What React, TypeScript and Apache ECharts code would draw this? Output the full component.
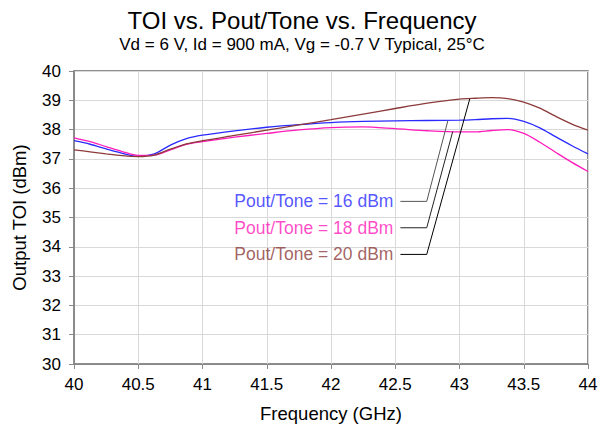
import React, { useEffect, useRef } from "react";
import * as echarts from "echarts";

const freqs = [40, 40.125, 40.25, 40.375, 40.5, 40.625, 40.75, 40.875, 41, 41.25, 41.5, 41.75, 42, 42.25, 42.5, 42.75, 43, 43.125, 43.25, 43.375, 43.5, 43.625, 43.75, 43.875, 44];
const toi16 = [37.62, 37.5, 37.34, 37.19, 37.09, 37.17, 37.47, 37.69, 37.81, 37.96, 38.08, 38.17, 38.24, 38.28, 38.3, 38.31, 38.32, 38.34, 38.37, 38.38, 38.28, 38.06, 37.75, 37.45, 37.17];
const toi18 = [37.72, 37.59, 37.42, 37.25, 37.12, 37.13, 37.31, 37.5, 37.59, 37.74, 37.87, 37.99, 38.07, 38.09, 38.03, 37.96, 37.92, 37.92, 37.97, 38.0, 37.87, 37.57, 37.22, 36.88, 36.57];
const toi20 = [37.31, 37.24, 37.17, 37.11, 37.08, 37.13, 37.33, 37.51, 37.62, 37.8, 37.98, 38.16, 38.34, 38.53, 38.72, 38.9, 39.04, 39.07, 39.09, 39.06, 38.94, 38.73, 38.45, 38.19, 37.98];

const seriesNames = ["Pout/Tone = 16 dBm", "Pout/Tone = 18 dBm", "Pout/Tone = 20 dBm"];
const seriesColors = ["#2a2aff", "#ff1cbb", "#8c3a3a"];
const leaderColors = ["#555555", "#222222", "#000000"];
// leader lines: label anchor -> elbow -> point on curve [freq, TOI]
const leaderAnchors = [
  [[42.54, 35.55], [42.745, 35.55], [42.91, 38.31]],
  [[42.54, 34.65], [42.745, 34.65], [42.947, 37.93]],
  [[42.54, 33.74], [42.745, 33.74], [43.08, 39.05]],
];

const xTicks = { min: 40, max: 44, interval: 0.5 };
const yTicks = { min: 30, max: 40, interval: 1 };

const FONT = "'Liberation Sans', Arial, sans-serif";

export default function App() {
  const ref = useRef<HTMLDivElement>(null);
  useEffect(() => {
    document.body.style.margin = "0";
    const chart = echarts.init(ref.current!, null, { renderer: "svg" });
    const data = [toi16, toi18, toi20];
    const curveSeries = data.map((vals, i) => ({
      name: seriesNames[i],
      type: "line",
      data: freqs.map((f, j) => [f, vals[j]]),
      smooth: 0.3,
      showSymbol: false,
      lineStyle: { color: seriesColors[i], width: 1.3 },
      z: 3,
    }));
    const leaderSeries = leaderAnchors.map((pts, i) => ({
      type: "line",
      data: pts,
      showSymbol: false,
      lineStyle: { color: leaderColors[i], width: 1 },
      z: 4,
    }));
    const labelSeries = {
      type: "scatter",
      symbolSize: 0,
      data: leaderAnchors.map((pts, i) => ({
        value: pts[0],
        label: {
          show: true,
          position: "left",
          distance: 7,
          formatter: seriesNames[i],
          color: seriesColors[i],
          fontSize: 17.5,
          fontFamily: FONT,
        },
      })),
      z: 5,
    };
    chart.setOption({
      animation: false,
      title: {
        text: "TOI vs. Pout/Tone vs. Frequency",
        subtext: "Vd = 6 V, Id = 900 mA, Vg = -0.7 V Typical, 25°C",
        left: "center",
        top: 3,
        itemGap: 4,
        textStyle: { fontSize: 24, fontWeight: "normal", color: "#000", fontFamily: FONT },
        subtextStyle: { fontSize: 17, color: "#000", fontFamily: FONT },
      },
      grid: {
        left: 74,
        right: 16,
        top: 71,
        bottom: 63,
        show: true,
        borderColor: "#6a6a6a",
        borderWidth: 1.5,
      },
      xAxis: {
        type: "value",
        min: xTicks.min,
        max: xTicks.max,
        interval: xTicks.interval,
        name: "Frequency (GHz)",
        nameLocation: "middle",
        nameGap: 40,
        nameTextStyle: { fontSize: 18.5, color: "#000", fontFamily: FONT },
        axisLine: { show: true, lineStyle: { color: "#888", width: 1 } },
        axisTick: { show: true, inside: false, length: 5, lineStyle: { color: "#888" } },
        axisLabel: { fontSize: 17, color: "#000", margin: 12, fontFamily: FONT },
        splitLine: { show: true, lineStyle: { color: "#d9d9d9", width: 1 } },
      },
      yAxis: {
        type: "value",
        min: yTicks.min,
        max: yTicks.max,
        interval: yTicks.interval,
        name: "Output TOI (dBm)",
        nameLocation: "middle",
        nameGap: 45,
        nameTextStyle: { fontSize: 18.5, color: "#000", fontFamily: FONT },
        axisLine: { show: true, lineStyle: { color: "#888", width: 1 } },
        axisTick: { show: true, inside: false, length: 5, lineStyle: { color: "#888" } },
        axisLabel: { fontSize: 17, color: "#000", margin: 13, fontFamily: FONT },
        splitLine: { show: true, lineStyle: { color: "#d9d9d9", width: 1 } },
      },
      series: [...curveSeries, ...leaderSeries, labelSeries],
    });
    return () => chart.dispose();
  }, []);
  return <div ref={ref} style={{ position: "absolute", left: 0, top: 0, width: 604, height: 428 }} />;
}
